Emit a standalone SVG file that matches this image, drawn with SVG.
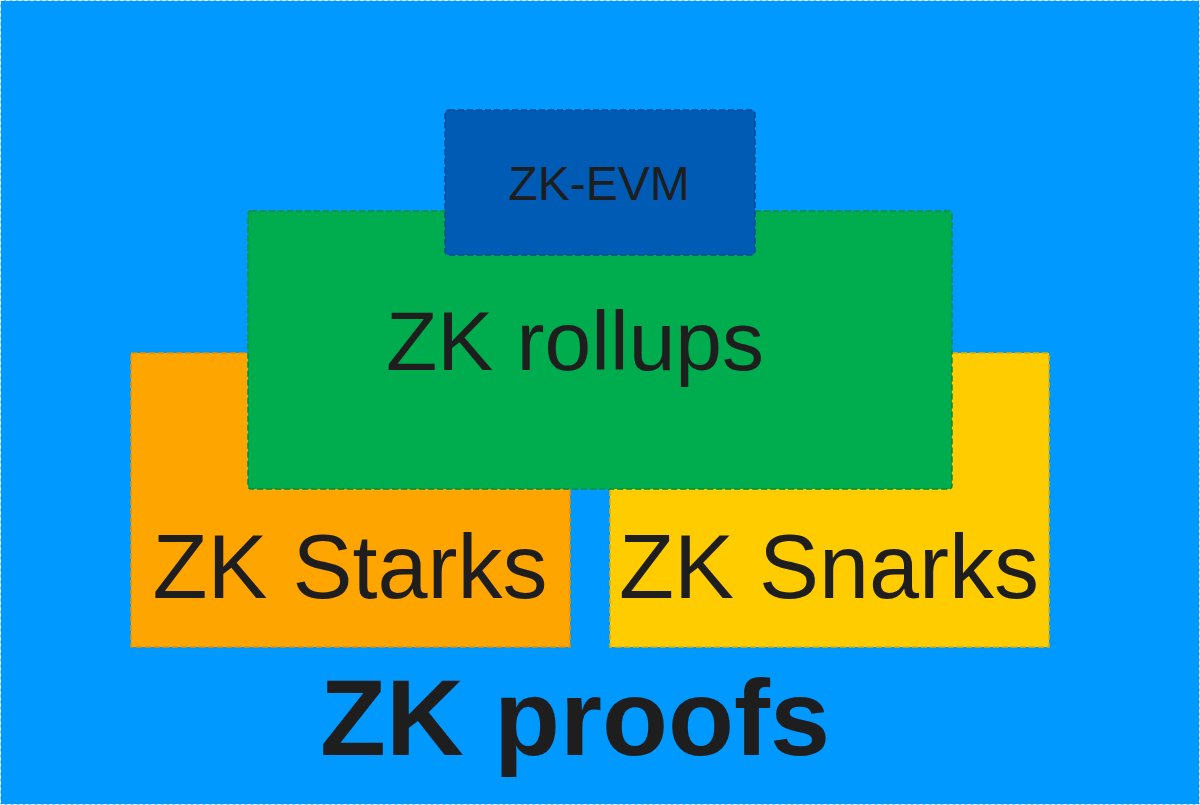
<svg xmlns="http://www.w3.org/2000/svg" width="1200" height="805" viewBox="0 0 1200 805">
<style>
text{font-family:"Liberation Sans",Arial,sans-serif;fill:#1e1e1e;text-anchor:middle}
.n{stroke-width:1.5;stroke-dasharray:6 3}
</style>
<rect x="0.5" y="0.5" width="1199" height="804" fill="#0099ff" stroke="#ffffff" stroke-width="1" stroke-dasharray="3 3"/>
<g id="starks"><rect class="n" x="131" y="353" width="439" height="294" fill="#ffa500" stroke="#e09000"/><text x="350" y="598" font-size="90">ZK Starks</text></g>
<g id="snarks"><rect class="n" x="610" y="353" width="439" height="294" fill="#ffcc00" stroke="#e0b000"/><text x="829" y="598" font-size="90">ZK Snarks</text></g>
<g id="rollups"><rect class="n" x="248" y="211" width="704" height="278" rx="3" fill="#00ad4e" stroke="#008a3c"/><text x="575" y="370" font-size="84">ZK rollups</text></g>
<g id="evm"><rect class="n" x="445" y="110" width="310" height="145" rx="4" fill="#005bb5" stroke="#004a94"/><text x="599" y="200" font-size="48">ZK-EVM</text></g>
<g id="proofs"><text x="575" y="755" font-size="108" font-weight="bold">ZK proofs</text></g>
<g id="connectors"/>
</svg>
